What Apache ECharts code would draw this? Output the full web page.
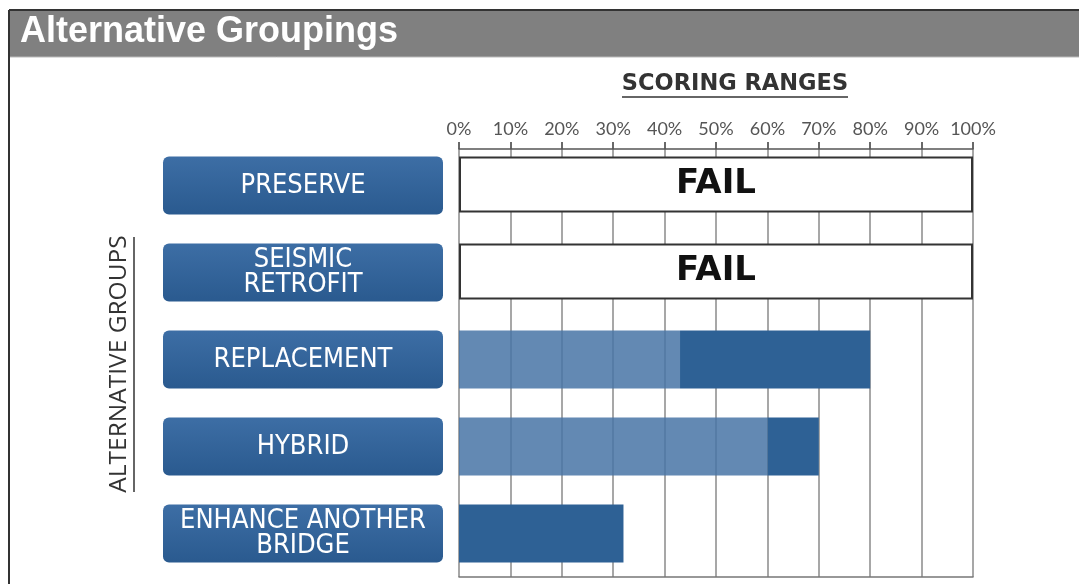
<!DOCTYPE html>
<html>
<head>
<meta charset="utf-8">
<script src="https://cdn.jsdelivr.net/npm/echarts@6/dist/echarts.min.js"></script>
<style>
html,body{margin:0;padding:0;background:#fff;}
#chart{width:1079px;height:584px;}
</style>
</head>
<body>
<div id="chart"></div>
<script>
const categories = ['PRESERVE', 'SEISMIC\nRETROFIT', 'REPLACEMENT', 'HYBRID', 'ENHANCE ANOTHER\nBRIDGE'];
const failValues = [100, 100, null, null, null];
const lowerRange = [null, null, 43, 60, 0];
const upperRange = [null, null, 80, 70, 32];
const tickLabels = ['0%', '10%', '20%', '30%', '40%', '50%', '60%', '70%', '80%', '90%', '100%'];
const labelBoxValues = [1, 1, 1, 1, 1];

const darkPart = upperRange.map((u, i) => (u == null ? null : u - (lowerRange[i] || 0)));

const chart = echarts.init(document.getElementById('chart'), null, {renderer: 'canvas'});

const narrow = '"Liberation Sans Narrow", "DejaVu Sans Condensed", sans-serif';

const option = {
  backgroundColor: '#ffffff',
  animation: false,
  grid: [
    {left: 459, width: 514, top: 142, height: 435},
    {left: 163, width: 280, top: 142, height: 435}
  ],
  xAxis: [
    {
      type: 'value', gridIndex: 0, position: 'top', offset: -7,
      min: 0, max: 100, interval: 10,
      axisLine: {show: true, lineStyle: {color: '#555', width: 1.5}},
      axisTick: {show: true, length: 7, lineStyle: {color: '#555', width: 1.5}},
      axisLabel: {
        margin: 11, color: '#555', fontSize: 18, fontFamily: 'Lato, sans-serif',
        formatter: (v, i) => tickLabels[i]
      },
      splitLine: {show: true, lineStyle: {color: '#8a8a8a', width: 1.5}}
    },
    {
      type: 'value', gridIndex: 0, position: 'bottom',
      min: 0, max: 100, interval: 10,
      axisLine: {show: true, lineStyle: {color: '#777', width: 1.5}},
      axisTick: {show: false}, axisLabel: {show: false}, splitLine: {show: false}
    },
    {
      type: 'value', gridIndex: 1, min: 0, max: 1, show: false
    }
  ],
  yAxis: [
    {
      type: 'category', gridIndex: 0, data: categories, inverse: true,
      axisLine: {show: false}, axisTick: {show: false}, axisLabel: {show: false},
      splitLine: {show: false},
      name: 'ALTERNATIVE GROUPS', nameLocation: 'middle', nameRotate: 90, nameGap: 327,
      nameTextStyle: {color: '#333', fontSize: 24.5, fontFamily: '"Open Sans", sans-serif', padding: [0, 9, 0, 0]}
    },
    {
      type: 'category', gridIndex: 1, data: categories, inverse: true, show: false
    }
  ],
  series: [
    {
      name: 'Fail', type: 'bar', xAxisIndex: 0, yAxisIndex: 0,
      data: failValues, barWidth: 56, barGap: '-100%', z: 3,
      itemStyle: {color: '#ffffff', borderColor: '#333', borderWidth: 2},
      label: {
        show: true, position: 'inside', formatter: 'FAIL',
        color: '#111', fontSize: 34, fontWeight: 'bold', fontFamily: '"DejaVu Sans", sans-serif'
      }
    },
    {
      name: 'Lower', type: 'bar', xAxisIndex: 0, yAxisIndex: 0, stack: 'range',
      data: lowerRange, barWidth: 58, barGap: '-100%', z: 3,
      itemStyle: {color: '#4874a6', opacity: 0.85}
    },
    {
      name: 'Upper', type: 'bar', xAxisIndex: 0, yAxisIndex: 0, stack: 'range',
      data: darkPart, barWidth: 58, barGap: '-100%', z: 3,
      itemStyle: {color: '#2e6195'}
    },
    {
      name: 'Groups', type: 'bar', xAxisIndex: 2, yAxisIndex: 1,
      data: labelBoxValues, barWidth: 58,
      itemStyle: {
        borderRadius: 6,
        color: new echarts.graphic.LinearGradient(0, 0, 0, 1, [
          {offset: 0, color: '#3d6ea5'},
          {offset: 1, color: '#2a5a8f'}
        ])
      },
      label: {
        show: true, position: 'inside', formatter: '{b}',
        color: '#ffffff', fontSize: 27, lineHeight: 25, fontFamily: narrow
      }
    }
  ],
  graphic: [
    {type: 'rect', left: 9, top: 10, shape: {width: 1070, height: 47}, style: {fill: '#808080'}, silent: true},
    {type: 'line', shape: {x1: 9, y1: 10, x2: 1079, y2: 10}, style: {stroke: '#333', lineWidth: 2}},
    {type: 'line', shape: {x1: 9, y1: 57, x2: 1079, y2: 57}, style: {stroke: '#bbb', lineWidth: 1}},
    {type: 'line', shape: {x1: 9, y1: 10, x2: 9, y2: 584}, style: {stroke: '#333', lineWidth: 2}},
    {type: 'text', left: 20, top: 14, style: {text: 'Alternative Groupings', fill: '#ffffff', font: 'bold 36px "Liberation Sans", Arial, sans-serif'}},
    {type: 'text', x: 735, y: 84, style: {text: 'SCORING RANGES', fill: '#333', textAlign: 'center', textVerticalAlign: 'middle', font: 'bold 22.5px "DejaVu Sans", sans-serif'}},
    {type: 'line', shape: {x1: 622, y1: 97, x2: 848, y2: 97}, style: {stroke: '#333', lineWidth: 1.5}},
    {type: 'line', shape: {x1: 134, y1: 237, x2: 134, y2: 492}, style: {stroke: '#333', lineWidth: 1.5}}
  ]
};
chart.setOption(option);
</script>
</body>
</html>
